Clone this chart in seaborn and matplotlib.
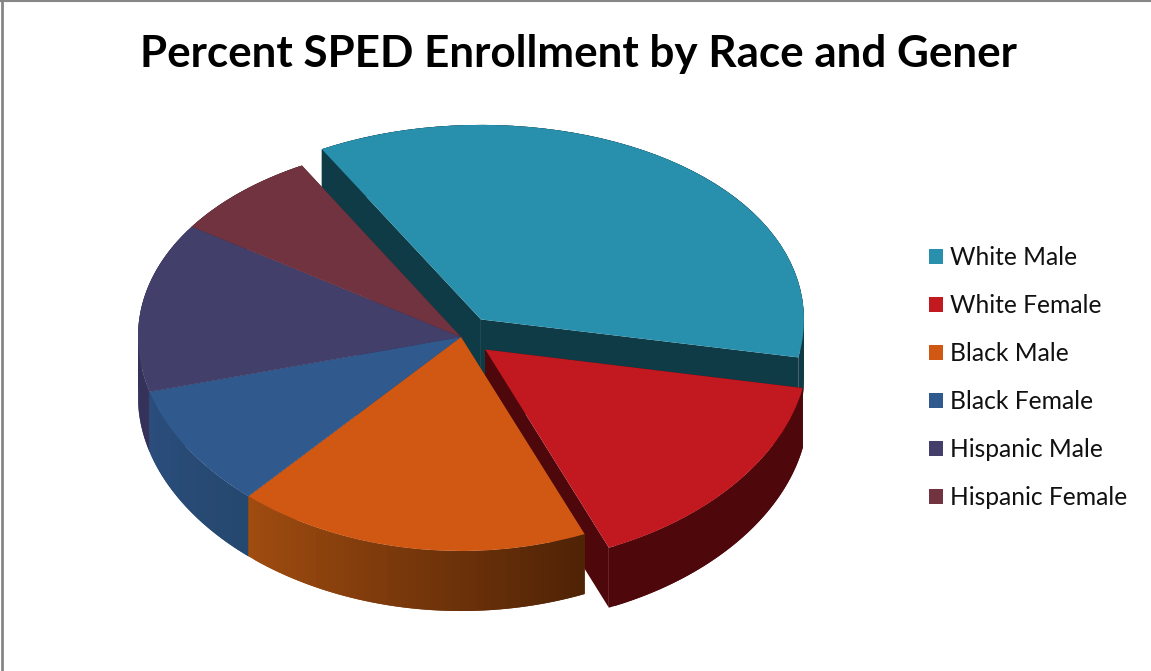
import numpy as np
import matplotlib
matplotlib.use("Agg")
import matplotlib.pyplot as plt
from matplotlib.colors import to_rgb
from matplotlib.lines import Line2D
import seaborn as sns

title = "Percent SPED Enrollment by Race and Gener"
labels = ["White Male", "White Female", "Black Male", "Black Female", "Hispanic Male", "Hispanic Female"]
values = [36.2, 15.8, 17.7, 9.3, 13.6, 7.5]
explode = [0.106, 0.097, 0, 0, 0, 0]
top_colors = ["#2890ad", "#c21820", "#d15813", "#30598e", "#423f6a", "#70333f"]
# side shading: colour at the wedge's lowest angle and at its highest angle
side_start = ["#0f3b47", "#4e070b", "#a04c10", "#2b4d7c", "#2d2a52", "#4a2029"]
side_end = ["#0f3b47", "#4e070b", "#4f2306", "#25486f", "#35325c", "#4a2029"]
wall_colors = ["#0f3b47", "#4e070b", "#6e3208", "#24466f", "#2d2a52", "#4a2029"]

W, H = 1151, 671
CX, CY, RX, A, B, DEPTH = 461, 337, 323, 204.6, 0.044, 60

sns.set_theme(style="white")
plt.rcParams["font.family"] = ["Lato", "DejaVu Sans"]


def fwd(y):
    return np.asarray(y) / (1 + B * np.asarray(y))


def inv(f):
    return np.asarray(f) / (1 - B * np.asarray(f))


def lower(y):
    return inv(fwd(y) - DEPTH / A)


fig = plt.figure(figsize=(W / 100, H / 100), dpi=100, facecolor="white")
ax = fig.add_axes([0, 0, 1, 1])

wedges, _ = ax.pie(values, explode=explode, colors=top_colors, startangle=119.5,
                   counterclock=False, radius=1, wedgeprops={"linewidth": 0, "zorder": 20})

# extruded sides, back wedges first
order = [0, 5, 4, 3, 1, 2]
for z, i in enumerate(order):
    w = wedges[i]
    cx, cy = w.center
    t1, t2 = w.theta1, w.theta2
    # radial cut faces
    for t in (t1, t2):
        xs = np.array([cx, cx + np.cos(np.radians(t))])
        ys = np.array([cy, cy + np.sin(np.radians(t))])
        ax.fill(np.r_[xs, xs[::-1]], np.r_[ys, lower(ys)[::-1]],
                color=wall_colors[i], lw=0, zorder=2 + z)
    # outer rim as overlapping shaded strips, so no seams show
    edges = np.linspace(t1, t2, 49)
    c0 = np.array(to_rgb(side_start[i]))
    c1 = np.array(to_rgb(side_end[i]))
    for k in range(48):
        th = np.radians(edges[k:k + 3])
        xs = cx + np.cos(th)
        ys = cy + np.sin(th)
        col = c0 + (c1 - c0) * k / 47
        ax.fill(np.r_[xs, xs[::-1]], np.r_[ys, lower(ys)[::-1]], color=col, lw=0, zorder=2 + z)

ax.set_yscale("function", functions=(fwd, inv))
ax.set_aspect("auto")
ax.set_xlim(-CX / RX, (W - CX) / RX)
ax.set_ylim(float(inv((CY - H) / A)), float(inv(CY / A)))
ax.set_axis_off()

leg = ax.legend(wedges, labels, loc="upper left", bbox_to_anchor=(924 / W, 1 - 241 / H),
                bbox_transform=fig.transFigure, frameon=False, prop={"size": 17.7},
                handlelength=0.57, handleheight=0.57, handletextpad=0.28,
                labelspacing=1.02, borderaxespad=0, borderpad=0.2, labelcolor="#111111")

fig.text(578 / W, 1 - 54.5 / H, title, ha="center", va="center", fontsize=31.7,
         fontweight="bold", color="black")

fig.add_artist(Line2D([2 / W, 2 / W], [0, 1], color="#868686", lw=2.0, transform=fig.transFigure))
fig.add_artist(Line2D([0, 1], [1 - 0.5 / H, 1 - 0.5 / H], color="#868686", lw=1.5, transform=fig.transFigure))

fig.savefig("out.png", dpi=100, facecolor="white")
